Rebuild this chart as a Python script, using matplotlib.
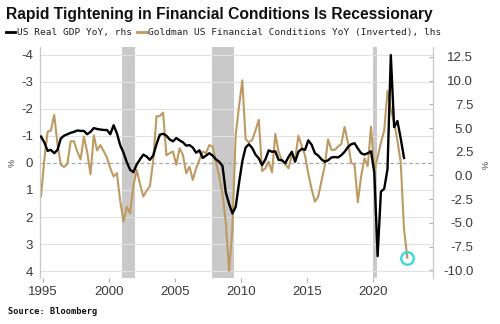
import numpy as np
import pandas as pd
import matplotlib
matplotlib.use("Agg")
import matplotlib.pyplot as plt
from matplotlib.lines import Line2D

# ---------------- data ----------------
gdp_start, gdp_end = "1994Q4", "2022Q2"
gdp_yoy = [
    4.1,
    3.5, 2.6, 2.7, 2.35,
    2.7, 3.9, 4.2, 4.35,
    4.5, 4.6, 4.75, 4.7,
    4.7, 4.35, 4.6, 5.0,
    4.9, 4.85, 4.8, 4.8,
    4.35, 5.3, 4.45, 3.2,
    2.4, 1.4, 0.6, 0.35,
    1.15, 1.7, 2.2, 2.0,
    1.65, 2.1, 3.3, 4.3,
    4.4, 4.2, 3.8, 3.6,
    3.95, 3.7, 3.5, 3.15,
    3.2, 2.95, 2.4, 2.65,
    1.85, 2.1, 2.35, 2.1,
    1.7, 1.45, 1.0, -1.8,
    -3.0, -4.0, -3.3, -0.8,
    1.5, 2.95, 3.3, 2.9,
    2.2, 1.8, 1.1, 1.7,
    2.65, 2.5, 2.55, 1.65,
    1.6, 1.3, 1.95, 2.5,
    1.45, 2.5, 2.8, 2.7,
    3.7, 3.25, 2.35, 2.1,
    1.7, 1.45, 1.6, 1.9,
    1.95, 1.9, 2.15, 2.5,
    3.0, 3.3, 3.4, 2.85,
    2.35, 2.2, 2.35, 2.55,
    0.3, -8.5, -1.7, -1.4,
    0.7, 12.7, 5.1, 5.75,
    3.9, 1.85,
]

fci_start, fci_end = "1994Q4", "2022Q3"
fci_yoy_inv = [
    1.24,
    -0.1, -1.15, -1.2, -1.77,
    -0.7, 0.07, 0.15, 0.03,
    -0.8, -0.8, -0.42, -0.13,
    -0.97, -0.4, 0.42, -1.02,
    -0.46, -0.66, -0.43, -0.2,
    0.2, 0.5, 0.38, 1.4,
    2.17, 1.62, 1.86, 0.85,
    0.26, 0.78, 1.24, 1.03,
    0.86, -0.08, -1.72, -1.73,
    -1.86, -0.28, -0.36, -0.42,
    0.07, -0.54, -0.3, 0.38,
    0.14, 0.63, 0.2, -0.11,
    -0.42, -0.36, -0.66, -0.6,
    -0.05, 0.5, 1.15, 2.2,
    4.0, 2.4, -1.05, -2.08,
    -3.05, -0.88, -0.76, -0.85,
    -1.2, -1.59, 0.3, 0.2,
    -0.05, 0.35, -1.07, -0.4,
    -0.1, 0.05, 0.2, -0.3,
    -0.14, -1.0, -0.63, -0.27,
    0.4, 0.97, 1.43, 1.24,
    0.66, 0.1, -0.87, -0.48,
    -0.48, -0.6, -0.7, -1.33,
    -0.75, 0.0, 0.06, 1.45,
    0.5, -0.17, 0.12, -1.34,
    0.3, -0.2, -0.75, -1.2,
    -2.66, -1.98, -1.5, -0.82,
    -0.02, 2.45, 3.5,
]

recession_start = [2001.0, 2007.8, 2020.05]
recession_end = [2002.0, 2009.5, 2020.3]

left_ticks = [-4, -3, -2, -1, 0, 1, 2, 3, 4]
right_ticks = [12.5, 10.0, 7.5, 5.0, 2.5, 0.0, -2.5, -5.0, -7.5, -10.0]
x_ticks = [1995, 2000, 2005, 2010, 2015, 2020]

title = "Rapid Tightening in Financial Conditions Is Recessionary"
label_gdp = "US Real GDP YoY, rhs"
label_fci = "Goldman US Financial Conditions YoY (Inverted), lhs"
source = "Source: Bloomberg"


def qx(start, end):
    p = pd.period_range(start, end, freq="Q")
    return np.array(p.year + (p.quarter - 1) / 4.0 + 0.125)


x_gdp = qx(gdp_start, gdp_end)
x_fci = qx(fci_start, fci_end)

# ---------------- figure ----------------
W, H = 500, 324
fig = plt.figure(figsize=(W / 100, H / 100), dpi=100)
fig.patch.set_facecolor("white")

ax = fig.add_axes([40 / W, 1 - 278 / H, (433 - 40) / W, (278 - 47) / H])
ax2 = ax.twinx()

gold = "#BE9A62"
gridc = "#e2e2e2"
textc = "#3a3a3a"

for s, e in zip(recession_start, recession_end):
    ax.axvspan(s, e, color="#c9c9c9", lw=0, zorder=0)

for t in left_ticks:
    if t == 0:
        ax.axhline(t, color="#a8a8a8", lw=0.9, ls=(0, (3, 2)), zorder=1)
    else:
        ax.axhline(t, color=gridc, lw=0.8, zorder=1)

ax.plot(x_fci, fci_yoy_inv, color=gold, lw=1.5, zorder=3)
ax.plot(x_fci[-1], fci_yoy_inv[-1], marker="o", ms=9, mfc="none",
        mec="#33d6d9", mew=1.6, zorder=4)
ax2.plot(x_gdp, gdp_yoy, color="black", lw=1.7, zorder=3)

ax.set_xlim(1994.8, 2024.57)
ax.set_ylim(4.25, -4.28)
ax2.set_ylim(-10.81, 13.55)

tfont = dict(family="Liberation Sans", size=9.5)
ax.set_yticks(left_ticks)
ax.set_yticklabels([f"{t:d}" for t in left_ticks], fontdict=tfont, color=textc)
ax.tick_params(axis="y", length=0, pad=5)

ax2.set_yticks(right_ticks)
ax2.set_yticklabels([f"{t:.1f}" for t in right_ticks], fontdict=tfont, color=textc)
ax2.tick_params(axis="y", direction="in", length=3, color="#b0b0b0", pad=29)
for lab in ax2.get_yticklabels():
    lab.set_horizontalalignment("right")

ax.set_xticks(x_ticks)
ax.set_xticklabels([str(t) for t in x_ticks], fontdict=dict(family="Liberation Sans", size=9.5), color=textc)
ax.tick_params(axis="x", length=3, color="#b0b0b0", pad=3)

for a in (ax, ax2):
    a.spines["top"].set_visible(False)
    a.spines["bottom"].set_visible(False)
    a.spines["left"].set_color("#c8c8c8")
    a.spines["right"].set_color("#c8c8c8")

fig.text(12 / W, 1 - 163 / H, "%", rotation=90, ha="center", va="center",
         fontsize=6.5, color=textc, family="Liberation Sans")
fig.text(486 / W, 1 - 165 / H, "%", rotation=90, ha="center", va="center",
         fontsize=6.5, color=textc, family="Liberation Sans")

t = fig.text(6 / W, 1 - 14 / H, title, ha="left", va="center",
             fontsize=11, fontweight="bold", family="Liberation Sans", color="#111111")
fig.canvas.draw()
w = t.get_window_extent().width
t.set_fontsize(11 * 430 / w)

handles = [Line2D([], [], color="black", lw=2), Line2D([], [], color=gold, lw=2)]
leg = fig.legend(handles, [label_gdp, label_fci], loc="center left",
                 bbox_to_anchor=(6 / W, 1 - 33 / H), ncol=2, frameon=False,
                 prop=dict(family="DejaVu Sans Mono", size=6.8),
                 handlelength=1.0, handletextpad=0.2, columnspacing=0.5,
                 borderpad=0, borderaxespad=0)
for tx in leg.get_texts():
    tx.set_color("#222222")

fig.text(8 / W, 1 - 312 / H, source, ha="left", va="center",
         fontsize=6.2, fontweight="bold", family="DejaVu Sans Mono", color="#111111")

fig.savefig("out.png", dpi=100, facecolor="white")
